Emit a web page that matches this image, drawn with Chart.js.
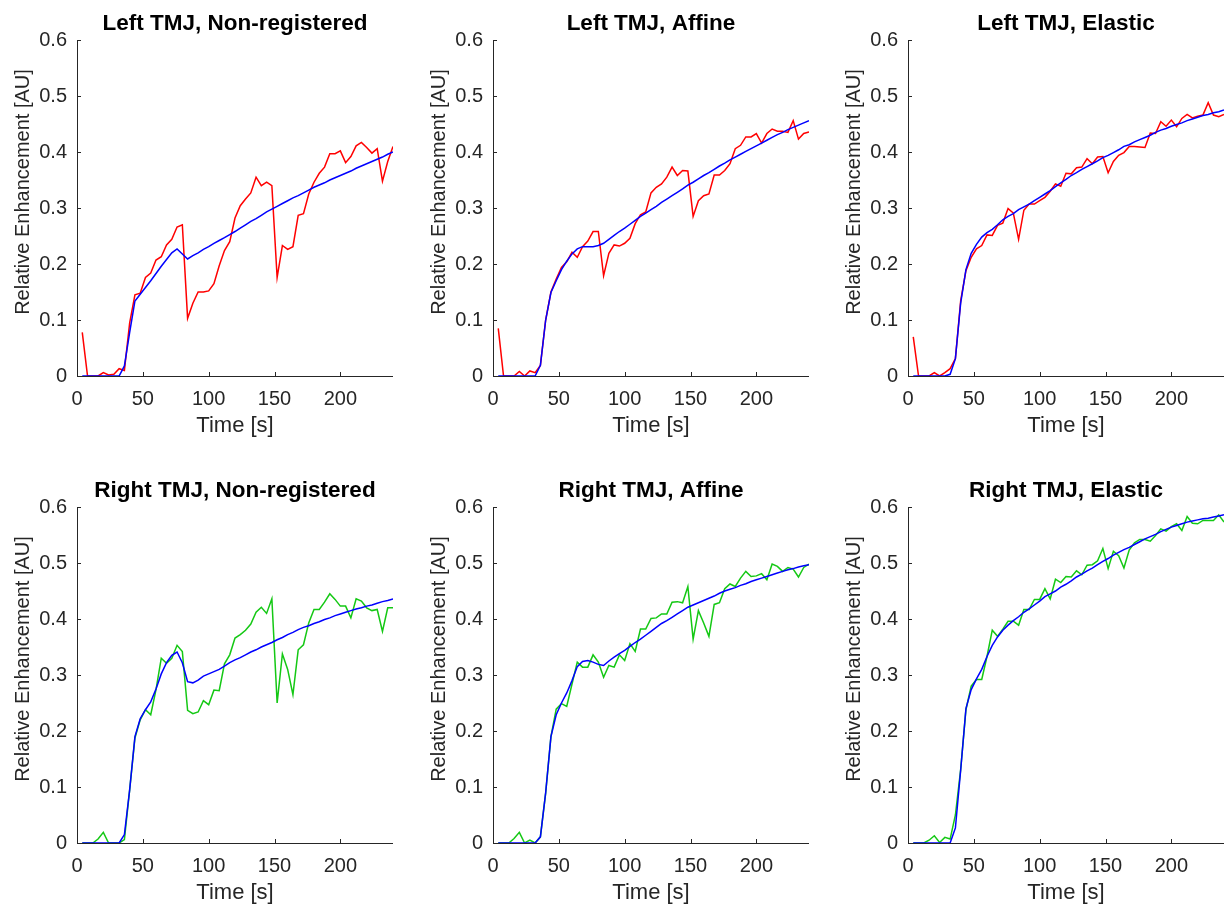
<!DOCTYPE html>
<html lang="en">
<head>
    <meta charset="UTF-8">
    <title>TMJ Relative Enhancement</title>
    <script src="https://cdn.jsdelivr.net/npm/chart.js"></script>
    <style>
        body {
            margin: 0;
            padding: 0;
            background: #fff;
            overflow: hidden;
            width: 1225px;
            height: 909px;
            position: relative;
        }

        canvas {
            position: absolute;
        }
    </style>
</head>
<body>
    <canvas id="c0" width="393" height="439"></canvas>
    <canvas id="c1" width="393" height="439"></canvas>
    <canvas id="c2" width="393" height="439"></canvas>
    <canvas id="c3" width="393" height="439"></canvas>
    <canvas id="c4" width="393" height="439"></canvas>
    <canvas id="c5" width="393" height="439"></canvas>

    <script>
        // acquisition times [s]
        const times = [4, 8, 12, 16, 20, 24, 28, 32, 36, 40, 44, 48, 52, 56, 60, 64, 68, 72, 76, 80,
            84, 88, 92, 96, 100, 104, 108, 112, 116, 120, 124, 128, 132, 136, 140, 144, 148, 152, 156, 160,
            164, 168, 172, 176, 180, 184, 188, 192, 196, 200, 204, 208, 212, 216, 220, 224, 228, 232, 236, 240];

        const xTicks = [0, 50, 100, 150, 200];
        const yTicks = [0, 0.1, 0.2, 0.3, 0.4, 0.5, 0.6];

        const leftNonregMeasured = [0.078, 0, 0, 0, 0.006, 0.002, 0.003, 0.013, 0.01, 0.095,
            0.145, 0.148, 0.176, 0.184, 0.207, 0.213, 0.234, 0.244, 0.266, 0.27,
            0.103, 0.13, 0.15, 0.15, 0.152, 0.165, 0.197, 0.224, 0.24, 0.282,
            0.304, 0.316, 0.327, 0.355, 0.34, 0.346, 0.34, 0.176, 0.233, 0.226,
            0.231, 0.287, 0.29, 0.325, 0.346, 0.362, 0.373, 0.397, 0.397, 0.402,
            0.381, 0.392, 0.411, 0.417, 0.408, 0.398, 0.406, 0.348, 0.383, 0.41];
        const leftNonregFit = [0, 0, 0, 0, 0, 0, 0, 0, 0.018, 0.078,
            0.134, 0.146, 0.158, 0.17, 0.183, 0.196, 0.208, 0.22, 0.227, 0.218,
            0.209, 0.215, 0.22, 0.226, 0.231, 0.237, 0.242, 0.247, 0.2525, 0.258,
            0.264, 0.27, 0.276, 0.281, 0.287, 0.293, 0.298, 0.303, 0.308, 0.313,
            0.318, 0.322, 0.327, 0.332, 0.337, 0.341, 0.345, 0.35, 0.354, 0.358,
            0.362, 0.366, 0.371, 0.375, 0.379, 0.383, 0.387, 0.391, 0.396, 0.40];

        const leftAffineMeasured = [0.085, 0, 0, 0, 0.008, 0, 0.009, 0.006, 0.019, 0.1,
            0.15, 0.173, 0.194, 0.204, 0.221, 0.212, 0.231, 0.241, 0.258, 0.258,
            0.179, 0.219, 0.234, 0.232, 0.237, 0.246, 0.272, 0.288, 0.293, 0.327,
            0.337, 0.343, 0.355, 0.373, 0.358, 0.367, 0.366, 0.285, 0.313, 0.322,
            0.325, 0.359, 0.359, 0.367, 0.379, 0.406, 0.412, 0.427, 0.427, 0.433,
            0.416, 0.433, 0.441, 0.437, 0.437, 0.435, 0.456, 0.423, 0.433, 0.436];
        const leftAffineFit = [0, 0, 0, 0, 0, 0, 0, 0, 0.019, 0.1,
            0.149, 0.17, 0.19, 0.205, 0.218, 0.227, 0.231, 0.231, 0.231, 0.233,
            0.237, 0.244, 0.251, 0.258, 0.264, 0.271, 0.278, 0.285, 0.291, 0.297,
            0.303, 0.31, 0.316, 0.322, 0.328, 0.334, 0.341, 0.346, 0.352, 0.358,
            0.363, 0.369, 0.375, 0.38, 0.386, 0.391, 0.396, 0.401, 0.406, 0.411,
            0.416, 0.421, 0.426, 0.431, 0.435, 0.44, 0.444, 0.448, 0.452, 0.456];

        const leftElasticMeasured = [0.07, 0, 0, 0, 0.006, 0, 0.006, 0.013, 0.031, 0.134,
            0.188, 0.212, 0.227, 0.233, 0.252, 0.251, 0.269, 0.273, 0.299, 0.291,
            0.244, 0.296, 0.307, 0.307, 0.313, 0.319, 0.33, 0.343, 0.339, 0.362,
            0.361, 0.372, 0.373, 0.388, 0.379, 0.391, 0.392, 0.363, 0.383, 0.394,
            0.399, 0.41, 0.41, 0.409, 0.408, 0.434, 0.433, 0.454, 0.446, 0.457,
            0.445, 0.46, 0.467, 0.461, 0.464, 0.466, 0.488, 0.466, 0.463, 0.467];
        const leftElasticFit = [0, 0, 0, 0, 0, 0, 0, 0.003, 0.031, 0.13,
            0.19, 0.219, 0.235, 0.248, 0.256, 0.262, 0.27, 0.279, 0.285, 0.29,
            0.297, 0.302, 0.307, 0.313, 0.319, 0.325, 0.331, 0.338, 0.345, 0.351,
            0.358, 0.363, 0.369, 0.374, 0.379, 0.384, 0.39, 0.394, 0.399, 0.404,
            0.41, 0.413, 0.418, 0.422, 0.426, 0.43, 0.435, 0.439, 0.442, 0.446,
            0.449, 0.452, 0.456, 0.459, 0.462, 0.465, 0.467, 0.47, 0.472, 0.475];

        const rightNonregMeasured = [0, 0, 0, 0.007, 0.019, 0, 0, 0, 0.006, 0.095,
            0.1875, 0.22, 0.238, 0.229, 0.274, 0.33, 0.321, 0.33, 0.353, 0.342,
            0.237, 0.231, 0.234, 0.254, 0.247, 0.273, 0.272, 0.32, 0.336, 0.366,
            0.372, 0.38, 0.391, 0.412, 0.421, 0.41, 0.436, 0.25, 0.3375, 0.31,
            0.265, 0.345, 0.354, 0.393, 0.417, 0.417, 0.43, 0.445, 0.435, 0.423,
            0.423, 0.402, 0.436, 0.432, 0.42, 0.415, 0.417, 0.378, 0.42, 0.42];
        const rightNonregFit = [0, 0, 0, 0, 0, 0, 0, 0, 0.015, 0.095,
            0.19, 0.222, 0.238, 0.252, 0.275, 0.302, 0.322, 0.335, 0.341, 0.322,
            0.288, 0.286, 0.291, 0.298, 0.302, 0.306, 0.31, 0.316, 0.322, 0.327,
            0.331, 0.336, 0.341, 0.345, 0.35, 0.354, 0.358, 0.363, 0.367, 0.372,
            0.376, 0.381, 0.385, 0.388, 0.392, 0.395, 0.399, 0.402, 0.406, 0.409,
            0.412, 0.415, 0.418, 0.42, 0.423, 0.425, 0.428, 0.431, 0.433, 0.436];

        const rightAffineMeasured = [0, 0, 0, 0.008, 0.019, 0, 0.005, 0, 0.011, 0.089,
            0.19, 0.239, 0.249, 0.244, 0.284, 0.323, 0.314, 0.314, 0.336, 0.323,
            0.296, 0.317, 0.314, 0.336, 0.326, 0.356, 0.342, 0.382, 0.382, 0.401,
            0.402, 0.409, 0.409, 0.43, 0.431, 0.429, 0.458, 0.364, 0.415, 0.393,
            0.369, 0.426, 0.429, 0.454, 0.4625, 0.458, 0.473, 0.485, 0.476, 0.477,
            0.481, 0.47, 0.498, 0.494, 0.485, 0.492, 0.489, 0.475, 0.492, 0.498];
        const rightAffineFit = [0, 0, 0, 0, 0, 0, 0, 0, 0.011, 0.09,
            0.19, 0.229, 0.25, 0.268, 0.29, 0.315, 0.324, 0.326, 0.323, 0.319,
            0.317, 0.325, 0.332, 0.338, 0.344, 0.351, 0.358, 0.364, 0.371, 0.378,
            0.385, 0.392, 0.397, 0.403, 0.409, 0.415, 0.421, 0.425, 0.429, 0.433,
            0.437, 0.441, 0.446, 0.45, 0.453, 0.456, 0.46, 0.463, 0.467, 0.47,
            0.473, 0.476, 0.479, 0.482, 0.485, 0.488, 0.49, 0.493, 0.495, 0.497];

        const rightElasticMeasured = [0, 0, 0, 0.005, 0.013, 0.001, 0.01, 0.007, 0.05, 0.131,
            0.238, 0.28, 0.292, 0.292, 0.333, 0.38, 0.369, 0.382, 0.396, 0.396,
            0.389, 0.417, 0.417, 0.435, 0.435, 0.454, 0.436, 0.471, 0.465, 0.476,
            0.475, 0.486, 0.479, 0.496, 0.497, 0.504, 0.526, 0.49, 0.521, 0.513,
            0.491, 0.523, 0.536, 0.542, 0.542, 0.539, 0.549, 0.561, 0.557, 0.565,
            0.57, 0.558, 0.583, 0.571, 0.57, 0.576, 0.576, 0.576, 0.586, 0.573];
        const rightElasticFit = [0, 0, 0, 0, 0, 0, 0, 0, 0.027, 0.13,
            0.24, 0.274, 0.293, 0.31, 0.333, 0.353, 0.368, 0.38, 0.389, 0.397,
            0.404, 0.412, 0.418, 0.425, 0.432, 0.44, 0.445, 0.45, 0.457, 0.462,
            0.468, 0.475, 0.48, 0.486, 0.491, 0.497, 0.503, 0.508, 0.514, 0.519,
            0.524, 0.528, 0.533, 0.538, 0.543, 0.547, 0.551, 0.556, 0.56, 0.564,
            0.567, 0.57, 0.573, 0.575, 0.577, 0.579, 0.58, 0.582, 0.584, 0.586];

        const RED = '#ff0000';
        const GREEN = '#14c814';
        const BLUE = '#0000ff';
        const AXIS = '#262626';
        const FONT = "'Liberation Sans', Arial, Helvetica, sans-serif";

        const panels = [
            { title: 'Left TMJ, Non-registered', measured: leftNonregMeasured, fit: leftNonregFit, color: RED, left: 0, top: 0 },
            { title: 'Left TMJ, Affine', measured: leftAffineMeasured, fit: leftAffineFit, color: RED, left: 416, top: 0 },
            { title: 'Left TMJ, Elastic', measured: leftElasticMeasured, fit: leftElasticFit, color: RED, left: 831, top: 0 },
            { title: 'Right TMJ, Non-registered', measured: rightNonregMeasured, fit: rightNonregFit, color: GREEN, left: 0, top: 467 },
            { title: 'Right TMJ, Affine', measured: rightAffineMeasured, fit: rightAffineFit, color: GREEN, left: 416, top: 467 },
            { title: 'Right TMJ, Elastic', measured: rightElasticMeasured, fit: rightElasticFit, color: GREEN, left: 831, top: 467 }
        ];

        Chart.defaults.font.family = FONT;
        Chart.defaults.color = AXIS;

        // matlab style: short ticks pointing into the plot, title centred over the axes,
        // y label a bit above the middle of the axis
        const matlabAxes = {
            id: 'matlabAxes',
            afterDraw(chart, args, opts) {
                const { ctx, chartArea, scales } = chart;
                ctx.save();
                ctx.strokeStyle = AXIS;
                ctx.lineWidth = 1;
                ctx.beginPath();
                xTicks.forEach(v => {
                    const px = Math.round(scales.x.getPixelForValue(v)) + 0.5;
                    ctx.moveTo(px, chartArea.bottom);
                    ctx.lineTo(px, chartArea.bottom - 4);
                });
                yTicks.forEach(v => {
                    const py = Math.round(scales.y.getPixelForValue(v)) + 0.5;
                    ctx.moveTo(chartArea.left, py);
                    ctx.lineTo(chartArea.left + 4, py);
                });
                ctx.stroke();

                const cx = (chartArea.left + chartArea.right) / 2;
                ctx.fillStyle = '#000';
                ctx.textAlign = 'center';
                ctx.textBaseline = 'middle';
                ctx.font = 'bold 22.5px ' + FONT;
                ctx.fillText(opts.title, cx, 24);

                const cy = (chartArea.top + chartArea.bottom) / 2 - 16;
                ctx.fillStyle = AXIS;
                ctx.font = '20px ' + FONT;
                ctx.translate(23, cy);
                ctx.rotate(-Math.PI / 2);
                ctx.fillText('Relative Enhancement [AU]', 0, 0);
                ctx.restore();
            }
        };

        function toPoints(values) {
            return times.map((t, i) => ({ x: t, y: values[i] }));
        }

        function createPanel(panel, index) {
            const canvas = document.getElementById('c' + index);
            canvas.style.left = panel.left + 'px';
            canvas.style.top = panel.top + 'px';

            new Chart(canvas, {
                type: 'line',
                data: {
                    datasets: [
                        {
                            data: toPoints(panel.fit),
                            borderColor: BLUE,
                            borderWidth: 1.5,
                            pointRadius: 0,
                            tension: 0
                        },
                        {
                            data: toPoints(panel.measured),
                            borderColor: panel.color,
                            borderWidth: 1.5,
                            pointRadius: 0,
                            tension: 0
                        }
                    ]
                },
                options: {
                    responsive: false,
                    animation: false,
                    devicePixelRatio: 1,
                    layout: { padding: { left: 0, right: 0, top: 40, bottom: 0 } },
                    plugins: {
                        legend: { display: false },
                        tooltip: { enabled: false },
                        title: { display: false },
                        matlabAxes: { title: panel.title }
                    },
                    scales: {
                        x: {
                            type: 'linear',
                            min: 0,
                            max: 240,
                            afterBuildTicks: s => { s.ticks = xTicks.map(v => ({ value: v })); },
                            afterFit: s => { s.height = 63; },
                            grid: { drawOnChartArea: false, drawTicks: false },
                            border: { color: AXIS, width: 1 },
                            ticks: { padding: 11, maxRotation: 0, font: { size: 20 } },
                            title: { display: true, text: 'Time [s]', font: { size: 22 }, padding: 0 }
                        },
                        y: {
                            min: 0,
                            max: 0.6,
                            afterBuildTicks: s => { s.ticks = yTicks.map(v => ({ value: v })); },
                            afterFit: s => { s.width = 77; },
                            grid: { drawOnChartArea: false, drawTicks: false },
                            border: { color: AXIS, width: 1 },
                            ticks: {
                                padding: 10,
                                font: { size: 20 },
                                callback: v => (v === 0 ? '0' : v.toFixed(1))
                            }
                        }
                    }
                },
                plugins: [matlabAxes]
            });
        }

        panels.forEach(createPanel);
    </script>
</body>
</html>
